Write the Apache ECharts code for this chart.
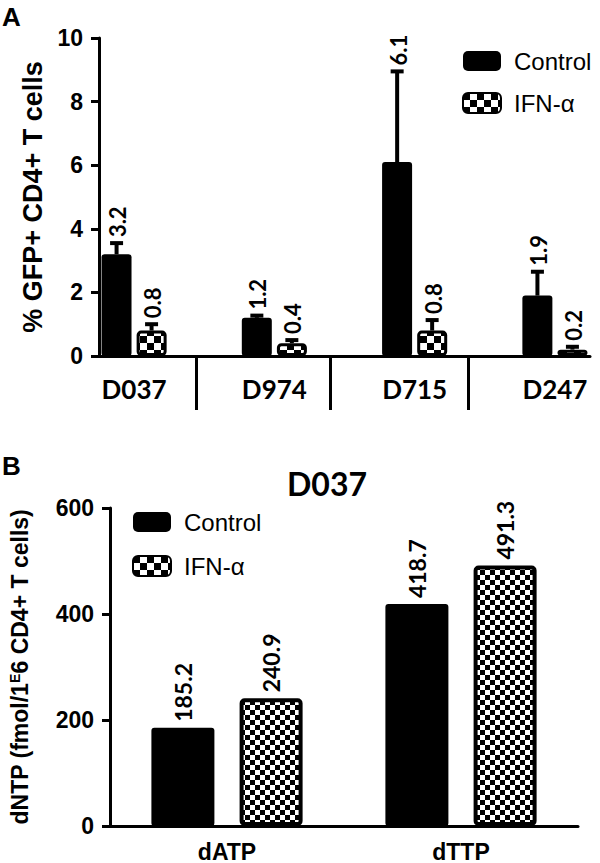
<!DOCTYPE html>
<html>
<head>
<meta charset="utf-8">
<script src="https://cdn.jsdelivr.net/npm/echarts@6/dist/echarts.min.js"></script>
<style>
html,body{margin:0;padding:0;background:#fff;}
#chart{width:600px;height:863px;}
</style>
</head>
<body>
<div id="chart"></div>
<script>
// ---- Panel A data ----
const groupsA = ['D037', 'D974', 'D715', 'D247'];
const controlA = [3.2, 1.2, 6.1, 1.9];
const ifnA = [0.8, 0.4, 0.8, 0.2];
const controlErrA = [0.35, 0.07, 2.85, 0.75];
const ifnErrA = [0.2, 0.1, 0.33, 0.09];
const groupPosA = [0, 1, 2, 3];
const dividerTicksA = [0.44, 1.4, 2.38];
// ---- Panel B data ----
const catsB = ['dATP', 'dTTP'];
const controlB = [185.2, 418.7];
const ifnB = [240.9, 491.3];
const seriesNames = ['Control', 'IFN-\u03b1'];

function checker(cell) {
  const c = document.createElement('canvas');
  c.width = c.height = cell * 2;
  const g = c.getContext('2d');
  g.fillStyle = '#fff'; g.fillRect(0, 0, cell * 2, cell * 2);
  g.fillStyle = '#000';
  g.fillRect(0, 0, cell, cell);
  g.fillRect(cell, cell, cell, cell);
  return c;
}
const patA = { image: checker(7), repeat: 'repeat' };
const patB = { image: checker(5), repeat: 'repeat' };

const ARIAL = 'Liberation Sans';
const CAL = 'Lato';

function errorSeries(vals, errs, off) {
  return {
    type: 'custom', xAxisIndex: 0, yAxisIndex: 0, z: 5, silent: true,
    data: vals.map((v, i) => [groupPosA[i], v + errs[i], v]),
    encode: { x: 0, y: [1, 2] },
    renderItem: (p, api) => {
      const c = api.coord([api.value(0), api.value(2)]);
      const t = api.coord([api.value(0), api.value(1)]);
      const x = c[0] + off;
      return {
        type: 'group', children: [
          { type: 'line', shape: { x1: x, y1: c[1], x2: x, y2: t[1] }, style: { stroke: '#000', lineWidth: 4 } },
          { type: 'line', shape: { x1: x - 6.5, y1: t[1], x2: x + 6.5, y2: t[1] }, style: { stroke: '#000', lineWidth: 4 } },
          { type: 'text', x: x + 1, y: t[1] - 6, rotation: Math.PI / 2,
            style: { text: api.value(2).toFixed(1), font: 'bold 22px ' + CAL, fill: '#000', align: 'left', verticalAlign: 'middle' } }
        ]
      };
    }
  };
}

const axisLineStyle = { color: '#000', width: 3 };

const option = {
  backgroundColor: '#fff',
  animation: false,
  title: [
    { text: 'A', left: 2, top: 4, padding: 0, textStyle: { fontFamily: ARIAL, fontWeight: 'bold', fontSize: 26, color: '#000' } },
    { text: 'B', left: 2, top: 453, padding: 0, textStyle: { fontFamily: ARIAL, fontWeight: 'bold', fontSize: 26, color: '#000' } },
    { text: 'D037', left: 287, top: 467, padding: 0, textStyle: { fontFamily: CAL, fontWeight: 'bold', fontSize: 32, color: '#000' } }
  ],
  legend: [
    { orient: 'vertical', left: 462, top: 49, padding: 0, itemWidth: 38, itemHeight: 20, itemGap: 18, selectedMode: false,
      icon: 'roundRect', data: seriesNames,
      textStyle: { fontFamily: ARIAL, fontSize: 24, color: '#000', padding: [0, 0, 0, 8] } },
    { orient: 'vertical', left: 132, top: 510, padding: 0, itemWidth: 38, itemHeight: 20, itemGap: 20, selectedMode: false,
      icon: 'roundRect', data: seriesNames,
      textStyle: { fontFamily: ARIAL, fontSize: 24, color: '#000', padding: [0, 0, 0, 8] } }
  ],
  grid: [
    { left: 99, right: 10, top: 38, height: 318 },
    { left: 99, right: 22, top: 508, height: 318 }
  ],
  xAxis: [
    { gridIndex: 0, type: 'value', min: -0.25, max: 3.25,
      axisLine: { onZero: false, lineStyle: axisLineStyle },
      axisTick: { show: true, customValues: dividerTicksA, length: 54, lineStyle: { color: '#000', width: 3 } },
      axisLabel: { customValues: groupPosA, formatter: v => groupsA[Math.round(v)] || '', margin: 20,
        fontFamily: CAL, fontWeight: 'bold', fontSize: 26, color: '#000' },
      splitLine: { show: false } },
    { gridIndex: 1, type: 'category', data: catsB,
      axisLine: { lineStyle: axisLineStyle }, axisTick: { show: false },
      axisLabel: { margin: 14, fontFamily: ARIAL, fontWeight: 'bold', fontSize: 23, color: '#000' } }
  ],
  yAxis: [
    { gridIndex: 0, type: 'value', min: 0, max: 10, interval: 2,
      name: '% GFP+ CD4+ T cells', nameLocation: 'middle', nameGap: 52,
      nameTextStyle: { fontFamily: ARIAL, fontWeight: 'bold', fontSize: 27, color: '#000' },
      axisLine: { show: true, onZero: false, lineStyle: axisLineStyle },
      axisTick: { show: true, length: 8, lineStyle: { color: '#000', width: 3 } },
      axisLabel: { margin: 16, fontFamily: ARIAL, fontWeight: 'bold', fontSize: 23, color: '#000' },
      splitLine: { show: false } },
    { gridIndex: 1, type: 'value', min: 0, max: 600, interval: 200,
      name: 'dNTP (fmol/1{sup|E}6 CD4+ T cells)', nameLocation: 'middle', nameGap: 79,
      nameTextStyle: { fontFamily: ARIAL, fontWeight: 'bold', fontSize: 23, color: '#000',
        rich: { sup: { fontFamily: ARIAL, fontWeight: 'bold', fontSize: 14, color: '#000', verticalAlign: 'top' } } },
      axisLine: { show: true, lineStyle: axisLineStyle },
      axisTick: { show: true, length: 8, lineStyle: { color: '#000', width: 3 } },
      axisLabel: { margin: 16, fontFamily: ARIAL, fontWeight: 'bold', fontSize: 23, color: '#000' },
      splitLine: { show: false } }
  ],
  series: [
    { name: seriesNames[0], type: 'bar', xAxisIndex: 0, yAxisIndex: 0, barWidth: 30, barGap: '17%',
      data: controlA.map((v, i) => [groupPosA[i], v]),
      itemStyle: { color: '#000', borderRadius: 3 } },
    { name: seriesNames[1], type: 'bar', xAxisIndex: 0, yAxisIndex: 0, barWidth: 30, barGap: '17%',
      data: ifnA.map((v, i) => [groupPosA[i], v]),
      itemStyle: { color: patA, borderColor: '#000', borderWidth: 3, borderRadius: 3 } },
    errorSeries(controlA, controlErrA, -17.5),
    errorSeries(ifnA, ifnErrA, 17.5),
    { name: seriesNames[0], type: 'bar', xAxisIndex: 1, yAxisIndex: 1, barWidth: 63, barGap: '40%',
      data: controlB,
      itemStyle: { color: '#000', borderRadius: 3 },
      label: { show: true, position: 'top', distance: 6, rotate: 90, align: 'left', verticalAlign: 'middle',
        formatter: p => p.value.toFixed(1), fontFamily: CAL, fontWeight: 'bold', fontSize: 23, color: '#000' } },
    { name: seriesNames[1], type: 'bar', xAxisIndex: 1, yAxisIndex: 1, barWidth: 63, barGap: '40%',
      data: ifnB,
      itemStyle: { color: patB, borderColor: '#000', borderWidth: 4, borderRadius: 3 },
      label: { show: true, position: 'top', distance: 6, rotate: 90, align: 'left', verticalAlign: 'middle',
        formatter: p => p.value.toFixed(1), fontFamily: CAL, fontWeight: 'bold', fontSize: 23, color: '#000' } }
  ]
};

const chart = echarts.init(document.getElementById('chart'), null, { renderer: 'svg', width: 600, height: 863 });
chart.setOption(option);
</script>
</body>
</html>
